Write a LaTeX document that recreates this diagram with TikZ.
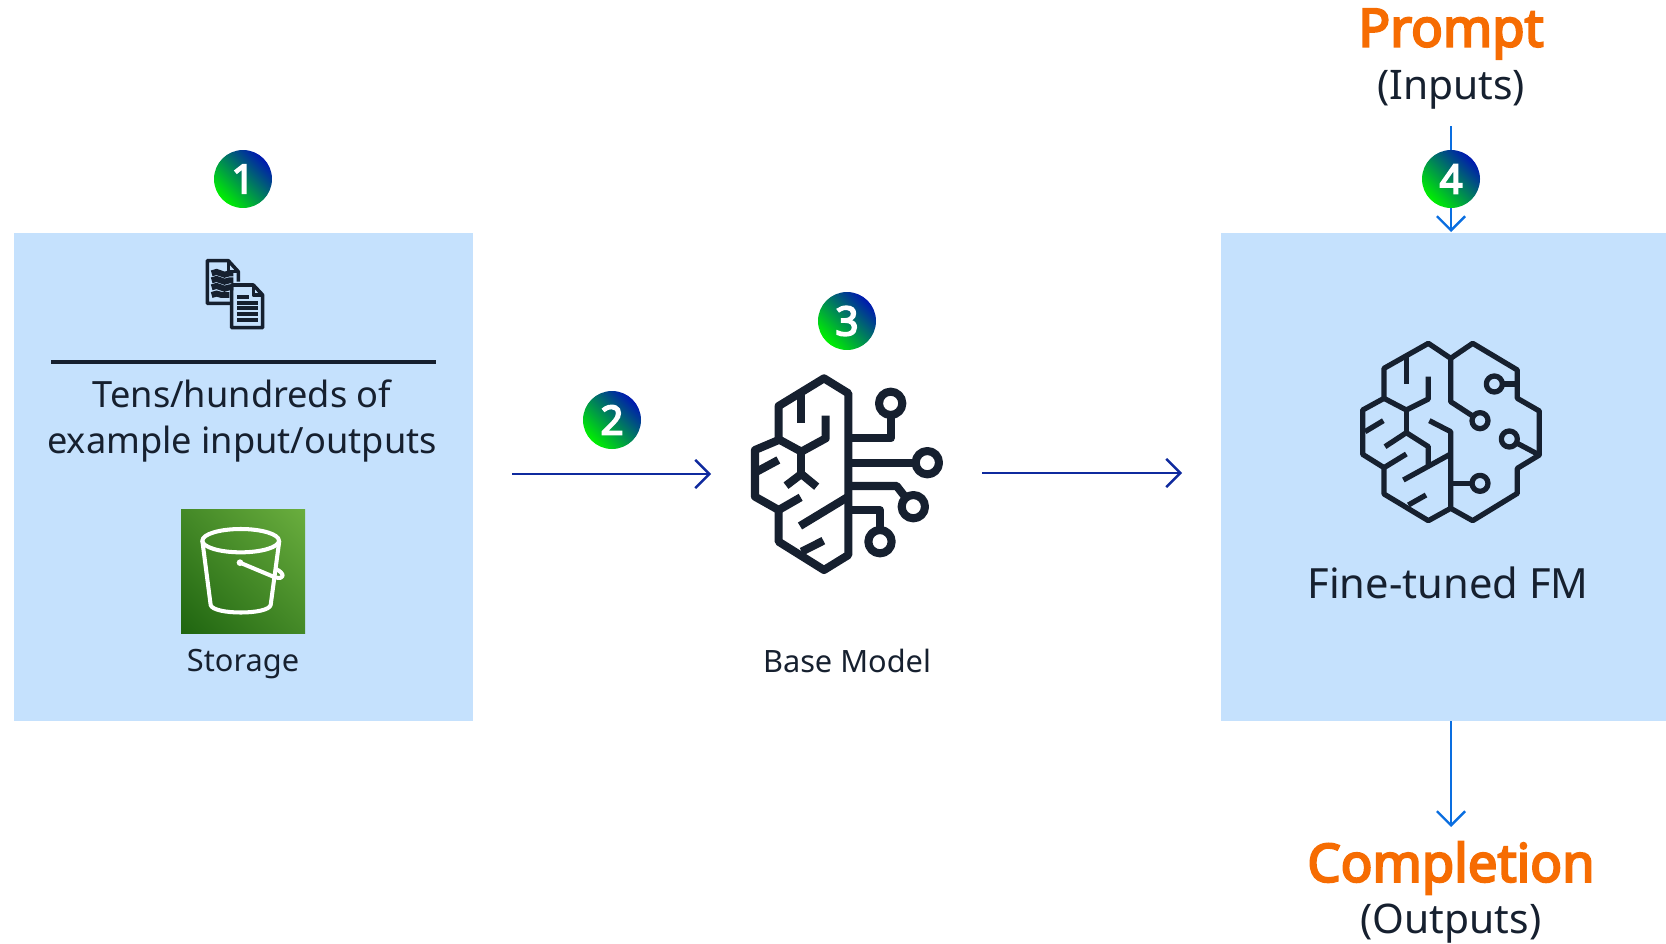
\documentclass[tikz,border=0pt]{standalone}
\usepackage{fontspec}
\setmainfont{Noto Sans}
\newfontfamily\heavyfont{Noto Sans}[FakeBold=4]
\usepackage{xcolor}
\usetikzlibrary{arrows.meta}
\usetikzlibrary{decorations.pathmorphing}
\usetikzlibrary{shadings}

\definecolor{inkdark}{HTML}{16202F}
\definecolor{boxblue}{HTML}{C5E1FD}
\definecolor{flownavy}{HTML}{0F2A9E}
\definecolor{flowblue}{HTML}{0A6EE0}
\definecolor{promptorange}{HTML}{F66C02}
\definecolor{bucketlow}{HTML}{1F6510}
\definecolor{bucketmid}{HTML}{448927}
\definecolor{buckethigh}{HTML}{6AAE3E}
\definecolor{badgetop}{HTML}{0018B0}
\definecolor{badgemid}{HTML}{05506F}
\definecolor{badgelow}{HTML}{00F000}

\tikzset{
  panel/.style = {fill=boxblue, draw=none, inner sep=0, anchor=north west},
  badge/.style = {circle, inner sep=0, minimum size=1.16cm, text=white,
    font=\heavyfont\fontsize{23}{23}\selectfont,
    top color=badgetop, middle color=badgemid, bottom color=badgelow, shading angle=-45},
  flow/.style = {line width=1.35pt, -{Straight Barb[length=8pt,width=16pt]}},
  bodytext/.style = {text=inkdark, align=center, inner sep=0, font=\fontsize{20.6}{26.6}\selectfont},
  smalltext/.style = {text=inkdark, inner sep=0, font=\fontsize{17.5}{20}\selectfont},
  fmtext/.style = {text=inkdark, inner sep=0, font=\fontsize{23.7}{28}\selectfont},
  headtext/.style = {text=promptorange, inner sep=0, font=\heavyfont\fontsize{30}{32}\selectfont},
  subtext/.style = {text=inkdark, inner sep=0, font=\fontsize{23.2}{26}\selectfont},
  thickicon/.style = {draw=inkdark, line width=4.6pt, line join=round},
  thinicon/.style = {draw=inkdark, line width=3pt, line join=round},
}

\begin{document}
\begin{tikzpicture}[x=0.02cm, y=-0.02cm]

\useasboundingbox (0,0) rectangle (1666,943);

\node[panel, minimum width=9.18cm, minimum height=9.76cm] (databox) at (14,233) {};
\node[panel, minimum width=8.90cm, minimum height=9.76cm] (tunedbox) at (1221,233) {};

\coordinate (arrow1a) at (512,474);
\coordinate (arrow1b) at (711,474);
\coordinate (arrow2a) at (982,473);
\coordinate (arrow2b) at (1182,473);
\coordinate (arrow3a) at (1451,126);
\coordinate (arrow3b) at (1451,232);
\coordinate (arrow4a) at (1451,721);
\coordinate (arrow4b) at (1451,827);

\draw[flow, flownavy] (arrow1a) -- (arrow1b);
\draw[flow, flownavy] (arrow2a) -- (arrow2b);
\draw[flow, flowblue] (arrow3a) -- (arrow3b);
\draw[flow, flowblue] (arrow4a) -- (arrow4b);

\node[badge] (badge1) at (243,179) {1};
\node[badge] (badge2) at (612,420) {2};
\node[badge] (badge3) at (847,321) {3};
\node[badge] (badge4) at (1451,179) {4};

\node[headtext] (prompt) at (1451,34) {Prompt};
\node[subtext] (inputs) at (1451,90) {(Inputs)};
\node[headtext] (completion) at (1451,868) {Completion};
\node[subtext] (outputs) at (1451,924) {(Outputs)};

\coordinate (rule1) at (51,362);
\coordinate (rule2) at (436,362);
\draw[inkdark, line width=2pt] (rule1) -- (rule2);
\node[bodytext] (examples) at (242,421) {Tens/hundreds of\\example input/outputs};
\node[smalltext] (storage) at (243,664) {Storage};
\node[smalltext] (basemodel) at (847,661) {Base Model};
\node[fmtext] (finetuned) at (1448,583) {Fine-tuned FM};

% documents
\begin{scope}[shift={(190,140)}, scale=1/3]
\draw[draw=inkdark, line width=2pt, line join=round] (122,490) -- (52,490) -- (52,362) -- (115,362) -- (145,395) -- (145,425);
\draw[draw=inkdark, line width=2pt, line join=round] (115,362) -- (115,395) -- (145,395);
\draw[draw=inkdark, line width=2pt, line join=round] (125,435) -- (190,435) -- (218,465) -- (218,563) -- (125,563) -- cycle;
\draw[draw=inkdark, line width=2pt, line join=round] (190,435) -- (190,465) -- (218,465);
\foreach \yy in {400,421,442} {
  \draw[inkdark, line width=3.4pt, decorate, decoration={snake, amplitude=0.8pt, segment length=9pt}] (65,\yy) -- (130,\yy);
}
\draw[inkdark, line width=3.4pt, decorate, decoration={snake, amplitude=0.8pt, segment length=9pt}] (65,465) -- (118,465);
\draw[inkdark, line width=2.4pt] (142,470) -- (176,470);
\foreach \yy in {488,505,522,540} {
  \draw[inkdark, line width=2.4pt] (142,\yy) -- (203,\yy);
}
\end{scope}

% bucket
\shade[shading=bilinear interpolation, lower left=bucketlow, upper right=buckethigh,
  upper left=bucketmid, lower right=bucketmid]
  (181,509) rectangle (305,633);
\begin{scope}[shift={(170,500)}, scale=1/3, white, line width=2.3pt, line join=round]
\draw (212,122) ellipse (115 and 35);
\draw (97,122) -- (122,315) .. controls (130,345) and (295,345) .. (302,315) -- (328,122);
\draw (210,188) -- (315,232) .. controls (345,240) and (345,220) .. (318,207);
\fill (210,188) circle (10);
\end{scope}

% base model
\begin{scope}[shift={(730,280)}, scale=1/3]
\draw[thickicon] (146,480) -- (146,378) -- (282,295) -- (355,340) -- (355,825) -- (282,870) -- (146,785) -- (146,690) -- (75,650) -- (75,510) -- cycle;
\draw[thickicon] (214,345) -- (214,428);
\draw[thickicon] (287,407) -- (287,475) -- (214,515) -- (146,478);
\draw[thickicon] (214,515) -- (214,582);
\draw[thickicon] (168,617) -- (214,582) -- (260,620);
\draw[thickicon] (80,575) -- (145,540);
\draw[thickicon] (146,690) -- (212,652);
\draw[thickicon] (210,738) -- (355,650);
\draw[thickicon] (215,815) -- (280,782);
\draw[thickicon] (355,475) -- (482,475) -- (482,405);
\draw[thickicon] (482,370) circle (35);
\draw[thickicon] (355,548) -- (557,548);
\draw[thickicon] (592,548) circle (35);
\draw[thickicon] (355,618) -- (500,618) -- (528,654);
\draw[thickicon] (550,680) circle (35);
\draw[thickicon] (355,690) -- (450,690) -- (450,750);
\draw[thickicon] (450,785) circle (35);
\end{scope}

% fine-tuned model
\begin{scope}[shift={(1340,330)}, scale=1/3]
\draw[thinicon] (132,205) -- (132,115) -- (265,40) -- (332,85) -- (398,40) -- (532,120) -- (532,205) -- (598,243) -- (598,375) -- (532,415) -- (532,490) -- (398,572) -- (332,535) -- (265,572) -- (132,492) -- (132,413) -- (68,373) -- (68,240) -- cycle;
\draw[thinicon] (332,85) -- (332,215) -- (398,258);
\draw[thinicon] (420,272) circle (24);
\draw[thinicon] (199,80) -- (199,162);
\draw[thinicon] (265,140) -- (265,207) -- (199,240) -- (132,205);
\draw[thinicon] (199,240) -- (199,308);
\draw[thinicon] (135,350) -- (199,308) -- (265,350) -- (265,405);
\draw[thinicon] (75,305) -- (130,272);
\draw[thinicon] (132,413) -- (199,372);
\draw[thinicon] (190,450) -- (332,372);
\draw[thinicon] (268,272) -- (332,305) -- (332,535);
\draw[thinicon] (332,460) -- (396,460);
\draw[thinicon] (420,460) circle (24);
\draw[thinicon] (205,525) -- (258,495);
\draw[thinicon] (532,162) -- (487,162);
\draw[thinicon] (463,162) circle (24);
\draw[thinicon] (598,375) -- (532,340);
\draw[thinicon] (508,327) circle (24);
\end{scope}

\end{tikzpicture}
\end{document}
